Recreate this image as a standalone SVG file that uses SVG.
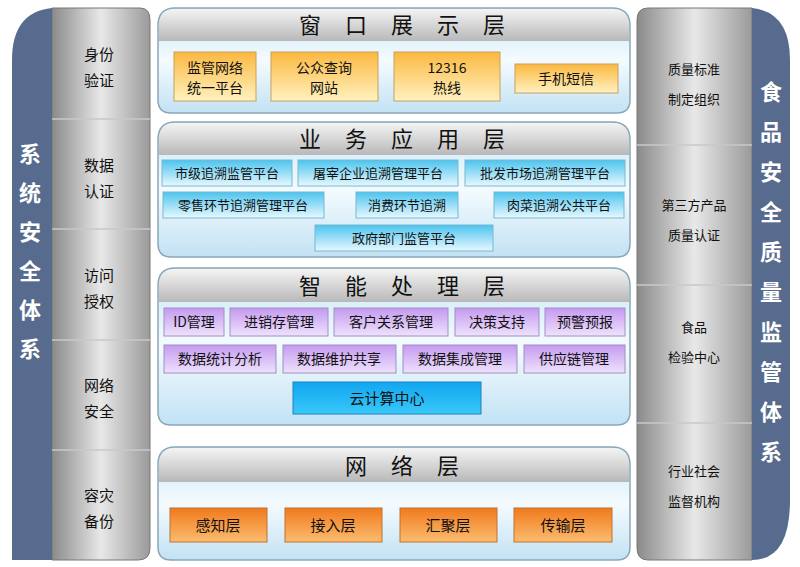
<svg xmlns="http://www.w3.org/2000/svg" width="800" height="567" viewBox="0 0 800 567">
<defs>
<linearGradient id="gray" x1="0" y1="0" x2="1" y2="0"><stop offset="0" stop-color="#8a8a8a"/><stop offset="0.5" stop-color="#e8e8e8"/><stop offset="1" stop-color="#9a9a9a"/></linearGradient>
<linearGradient id="hdr" x1="0" y1="0" x2="0" y2="1"><stop offset="0" stop-color="#f4f4f4"/><stop offset="1" stop-color="#b8b8b8"/></linearGradient>
<linearGradient id="body" x1="0" y1="0" x2="0" y2="1"><stop offset="0" stop-color="#c6e6f6"/><stop offset="0.5" stop-color="#f4fbfe"/><stop offset="1" stop-color="#c2e2f4"/></linearGradient>
<linearGradient id="yel" x1="0" y1="0" x2="0" y2="1"><stop offset="0" stop-color="#fbb840"/><stop offset="1" stop-color="#fff2c0"/></linearGradient>
<linearGradient id="cyan" x1="0" y1="0" x2="0" y2="1"><stop offset="0" stop-color="#4cc4ee"/><stop offset="1" stop-color="#e8f8ff"/></linearGradient>
<linearGradient id="pur" x1="0" y1="0" x2="0" y2="1"><stop offset="0" stop-color="#c49af0"/><stop offset="1" stop-color="#efe2fc"/></linearGradient>
<linearGradient id="blu" x1="0" y1="0" x2="0" y2="1"><stop offset="0" stop-color="#12a6f0"/><stop offset="1" stop-color="#38c8f8"/></linearGradient>
<linearGradient id="org" x1="0" y1="0" x2="0" y2="1"><stop offset="0" stop-color="#f07a1c"/><stop offset="1" stop-color="#fcbc70"/></linearGradient>
</defs>
<style>
text{font-family:"Noto Sans CJK SC",sans-serif;fill:#111;text-anchor:middle}
.side{font-size:15px}
.big{font-size:22px;fill:#fff;font-weight:bold}
.h{font-size:22px;letter-spacing:24px}
.s{font-size:13px}
.m{font-size:14px}
.sep{stroke:#c8c8c8;stroke-width:1.5}
.lay{fill:url(#body);stroke:#8aa8b8;stroke-width:1.5}
.hd{fill:url(#hdr)}
</style>
<rect width="800" height="567" fill="#fff"/>
<g id="left">
<path d="M52 8 H140 Q150 8 150 20 V548 Q150 560 138 560 H52 Z" fill="url(#gray)" stroke="#777"/>
<path d="M52 8 Q12 12 12 60 V560 H52 Z" fill="#566b8e"/>
<line class="sep" x1="52" y1="119" x2="150" y2="119"/><line class="sep" x1="52" y1="229" x2="150" y2="229"/><line class="sep" x1="52" y1="340" x2="150" y2="340"/><line class="sep" x1="52" y1="450" x2="150" y2="450"/>
<text class="side" x="99" y="60">身份</text><text class="side" x="99" y="86">验证</text>
<text class="side" x="99" y="171">数据</text><text class="side" x="99" y="197">认证</text>
<text class="side" x="99" y="281">访问</text><text class="side" x="99" y="307">授权</text>
<text class="side" x="99" y="391">网络</text><text class="side" x="99" y="417">安全</text>
<text class="side" x="99" y="501">容灾</text><text class="side" x="99" y="527">备份</text>
<text class="big" x="30" y="162">系</text><text class="big" x="30" y="201">统</text><text class="big" x="30" y="240">安</text><text class="big" x="30" y="279">全</text><text class="big" x="30" y="318">体</text><text class="big" x="30" y="357">系</text>
</g>
<g id="right">
<path d="M648 8 H752 V560 H648 Q637 560 637 548 V20 Q637 8 648 8 Z" fill="url(#gray)" stroke="#777"/>
<path d="M752 8 Q790 12 790 60 V500 Q790 560 752 560 Z" fill="#566b8e"/>
<line class="sep" x1="637" y1="145" x2="752" y2="145"/><line class="sep" x1="637" y1="285" x2="752" y2="285"/><line class="sep" x1="637" y1="423" x2="752" y2="423"/>
<text class="s" x="694" y="74">质量标准</text><text class="s" x="694" y="104">制定组织</text>
<text class="s" x="694" y="210">第三方产品</text><text class="s" x="694" y="240">质量认证</text>
<text class="s" x="694" y="332">食品</text><text class="s" x="694" y="362">检验中心</text>
<text class="s" x="694" y="476">行业社会</text><text class="s" x="694" y="506">监督机构</text>
<text class="big" x="771" y="100">食</text><text class="big" x="771" y="140">品</text><text class="big" x="771" y="180">安</text><text class="big" x="771" y="220">全</text><text class="big" x="771" y="260">质</text><text class="big" x="771" y="300">量</text><text class="big" x="771" y="340">监</text><text class="big" x="771" y="380">管</text><text class="big" x="771" y="420">体</text><text class="big" x="771" y="460">系</text>
</g>
<g id="layer1">
<path class="lay" d="M175 8 H612 Q630 8 630 26 V100 Q630 113 617 113 H171 Q158 113 158 100 V26 Q158 8 175 8 Z"/>
<path class="hd" d="M175 9 H612 Q629 9 629 26 V41 H159 V26 Q159 9 175 9 Z"/>
<text class="h" x="414" y="33">窗口展示层</text>
<rect x="174" y="52" width="82" height="49" fill="url(#yel)" stroke="#c8a060"/>
<text class="m" x="215" y="73">监管网络</text><text class="m" x="215" y="93">统一平台</text>
<rect x="271" y="52" width="107" height="49" fill="url(#yel)" stroke="#c8a060"/>
<text class="m" x="324" y="73">公众查询</text><text class="m" x="324" y="93">网站</text>
<rect x="394" y="52" width="106" height="49" fill="url(#yel)" stroke="#c8a060"/>
<text class="m" x="447" y="73">12316</text><text class="m" x="447" y="93">热线</text>
<rect x="515" y="64" width="103" height="29" fill="url(#yel)" stroke="#c8a060"/>
<text class="m" x="566" y="84">手机短信</text>
</g>
<g id="layer2">
<path class="lay" d="M175 122 H612 Q630 122 630 140 V244 Q630 257 617 257 H171 Q158 257 158 244 V140 Q158 122 175 122 Z"/>
<path class="hd" d="M175 123 H612 Q629 123 629 140 V155 H159 V140 Q159 123 175 123 Z"/>
<text class="h" x="414" y="147">业务应用层</text>
<g fill="url(#cyan)" stroke="#7ab8d0">
<rect x="162" y="160" width="130" height="26"/><rect x="298" y="160" width="160" height="26"/><rect x="465" y="160" width="160" height="26"/>
<rect x="163" y="192" width="161" height="26"/><rect x="356" y="192" width="102" height="26"/><rect x="494" y="192" width="130" height="26"/>
<rect x="315" y="225" width="178" height="26"/>
</g>
<text class="s" x="227" y="178">市级追溯监管平台</text><text class="s" x="378" y="178">屠宰企业追溯管理平台</text><text class="s" x="545" y="178">批发市场追溯管理平台</text>
<text class="s" x="243" y="210">零售环节追溯管理平台</text><text class="s" x="407" y="210">消费环节追溯</text><text class="s" x="559" y="210">肉菜追溯公共平台</text>
<text class="s" x="404" y="243">政府部门监管平台</text>
</g>
<g id="layer3">
<path class="lay" d="M175 268 H612 Q630 268 630 286 V412 Q630 425 617 425 H171 Q158 425 158 412 V286 Q158 268 175 268 Z"/>
<path class="hd" d="M175 269 H612 Q629 269 629 286 V302 H159 V286 Q159 269 175 269 Z"/>
<text class="h" x="414" y="294">智能处理层</text>
<g fill="url(#pur)" stroke="#a090c0">
<rect x="164" y="308" width="60" height="28"/><rect x="230" y="308" width="98" height="28"/><rect x="334" y="308" width="114" height="28"/><rect x="455" y="308" width="84" height="28"/><rect x="545" y="308" width="80" height="28"/>
<rect x="164" y="345" width="112" height="28"/><rect x="283" y="345" width="113" height="28"/><rect x="403" y="345" width="114" height="28"/><rect x="524" y="345" width="101" height="28"/>
</g>
<rect x="293" y="382" width="188" height="32" fill="url(#blu)" stroke="#2080c0"/>
<text class="m" x="194" y="327">ID管理</text><text class="m" x="279" y="327">进销存管理</text><text class="m" x="391" y="327">客户关系管理</text><text class="m" x="497" y="327">决策支持</text><text class="m" x="585" y="327">预警预报</text>
<text class="m" x="220" y="364">数据统计分析</text><text class="m" x="339" y="364">数据维护共享</text><text class="m" x="460" y="364">数据集成管理</text><text class="m" x="574" y="364">供应链管理</text>
<text class="side" x="387" y="404">云计算中心</text>
</g>
<g id="layer4">
<path class="lay" d="M175 447 H612 Q630 447 630 465 V547 Q630 560 617 560 H171 Q158 560 158 547 V465 Q158 447 175 447 Z"/>
<path class="hd" d="M175 448 H612 Q629 448 629 465 V482 H159 V465 Q159 448 175 448 Z"/>
<text class="h" x="414" y="474">网络层</text>
<g fill="url(#org)" stroke="#c07030">
<rect x="170" y="508" width="97" height="34"/><rect x="285" y="508" width="97" height="34"/><rect x="400" y="508" width="97" height="34"/><rect x="514" y="508" width="98" height="34"/>
</g>
<text class="side" x="218" y="531">感知层</text><text class="side" x="333" y="531">接入层</text><text class="side" x="448" y="531">汇聚层</text><text class="side" x="563" y="531">传输层</text>
</g>
</svg>
